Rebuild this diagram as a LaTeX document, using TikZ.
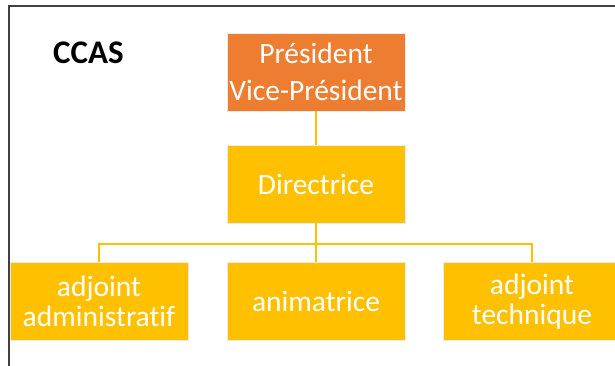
\documentclass[tikz,border=0pt]{standalone}
\usepackage{fontspec}
\setmainfont[Ligatures=NoCommon]{Carlito}
\definecolor{orgorange}{HTML}{ED7D31}
\definecolor{orggold}{HTML}{FFC000}
\begin{document}
\begin{tikzpicture}[x=1pt,y=-1pt,
  unit/.style={minimum width=178pt, minimum height=78pt, inner sep=0pt,
    text=white, align=center, draw=black!8, line width=0.6pt,
    font=\fontsize{29.5}{30}\selectfont},
  link/.style={draw=orggold, line width=1.2pt},
  frame/.style={draw=black!75, line width=2pt}]
\useasboundingbox (0,0) rectangle (615,365);
% outer frame
\draw[frame] (9,366) -- (9,6) -- (616,6);
% title
\node[anchor=west, inner sep=0pt, font=\bfseries\fontsize{33}{33}\selectfont] (title) at (53,53) {CCAS};
% boxes
\node[unit, fill=orgorange, font=\fontsize{29.5}{37}\selectfont] (pres) at (316,72) {Président\\Vice-Président};
\node[unit, fill=orggold] (dir) at (316,184) {Directrice};
\node[unit, fill=orggold] (adm) at (99,301.5) {adjoint\\administratif};
\node[unit, fill=orggold] (anim) at (316,301.5) {animatrice};
\node[unit, fill=orggold] (tech) at (532,301.5) {adjoint\\technique};
% connectors
\coordinate (bus) at (316,244);
\draw[link] (pres.south) -- (dir.north);
\draw[link] (dir.south) -- (anim.north);
\draw[link] (bus) -| (adm.north);
\draw[link] (bus) -| (tech.north);
\end{tikzpicture}
\end{document}
